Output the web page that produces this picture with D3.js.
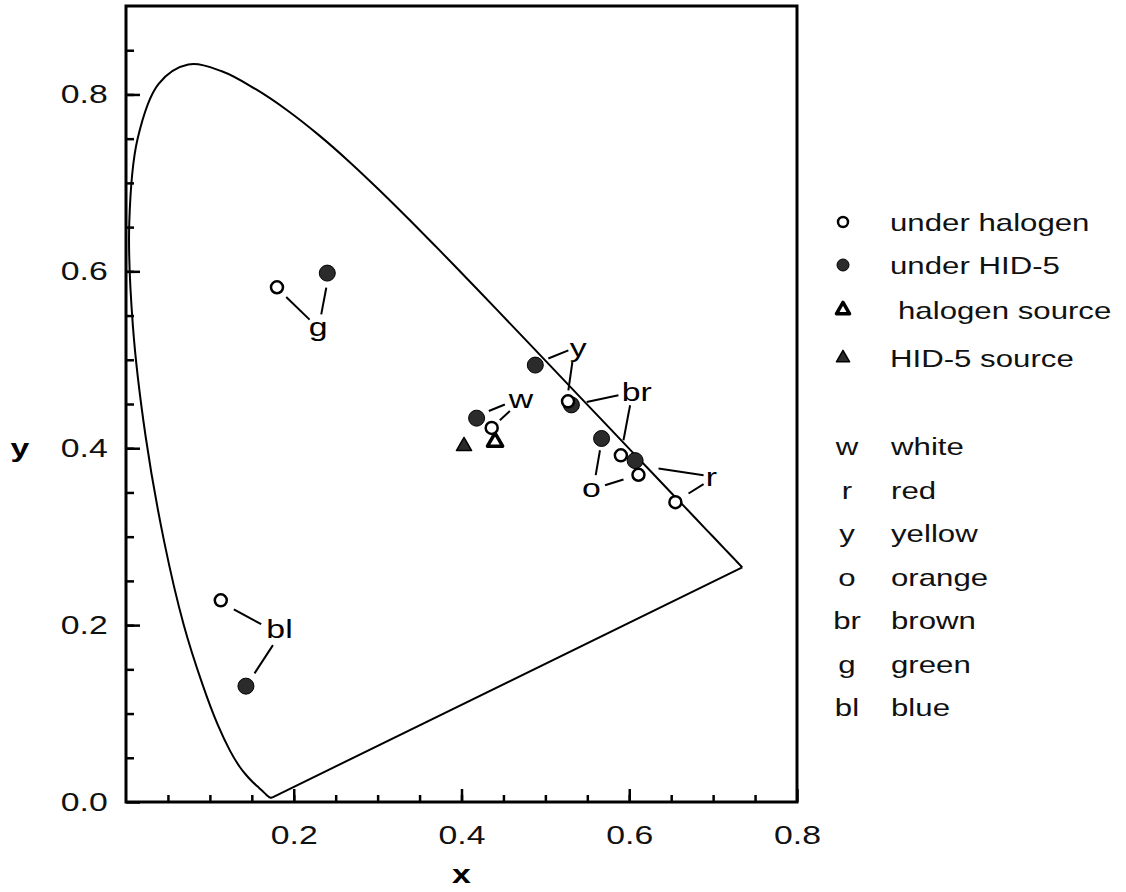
<!DOCTYPE html>
<html>
<head>
<meta charset="utf-8">
<script src="https://cdn.jsdelivr.net/npm/d3@7"></script>
<style>
  body { margin: 0; background: #fff; }
  svg { display: block; font-family: "Liberation Sans", Arial, Helvetica, sans-serif; }
</style>
</head>
<body>
<svg id="chart" width="1126" height="892"></svg>
<script>
// CIE 1931 spectral locus, 380-700 nm in 5 nm steps
const locusX = [0.1741,0.1740,0.1738,0.1736,0.1733,0.1730,0.1726,0.1721,0.1714,0.1703,0.1689,0.1669,0.1644,0.1611,0.1566,0.1510,0.1440,0.1355,0.1241,0.1096,0.0913,0.0687,0.0454,0.0235,0.0082,0.0039,0.0139,0.0389,0.0743,0.1142,0.1547,0.1929,0.2296,0.2658,0.3016,0.3373,0.3731,0.4087,0.4441,0.4788,0.5125,0.5448,0.5752,0.6029,0.6270,0.6482,0.6658,0.6801,0.6915,0.7006,0.7079,0.7140,0.7190,0.7230,0.7260,0.7283,0.7300,0.7311,0.7320,0.7327,0.7334,0.7340,0.7344,0.7346,0.7347];
const locusY = [0.0050,0.0050,0.0049,0.0049,0.0048,0.0048,0.0048,0.0048,0.0051,0.0058,0.0069,0.0086,0.0109,0.0138,0.0177,0.0227,0.0297,0.0399,0.0578,0.0868,0.1327,0.2007,0.2950,0.4127,0.5384,0.6548,0.7502,0.8120,0.8338,0.8262,0.8059,0.7816,0.7543,0.7243,0.6923,0.6589,0.6245,0.5896,0.5547,0.5202,0.4866,0.4544,0.4242,0.3965,0.3725,0.3514,0.3340,0.3197,0.3083,0.2993,0.2920,0.2859,0.2809,0.2770,0.2740,0.2717,0.2700,0.2689,0.2680,0.2673,0.2666,0.2660,0.2656,0.2654,0.2653];

// colour samples: code, chromaticity under halogen (open) and under HID-5 (filled)
const colorCodes = ["w", "r", "y", "o", "br", "g", "bl"];
const colorNames = ["white", "red", "yellow", "orange", "brown", "green", "blue"];
const halogenX = [0.436, 0.655, 0.527, 0.611, 0.590, 0.180, 0.113];
const halogenY = [0.423, 0.339, 0.453, 0.370, 0.392, 0.582, 0.228];
const hidX     = [0.418, 0.607, 0.488, 0.567, 0.531, 0.240, 0.143];
const hidY     = [0.434, 0.386, 0.494, 0.411, 0.449, 0.598, 0.131];

// light sources
const sourceNames = ["halogen source", "HID-5 source"];
const sourceX = [0.440, 0.403];
const sourceY = [0.405, 0.400];

// label positions and leader lines (x1, y1, x2, y2) per colour code
const labelX = [0.471, 0.698, 0.539, 0.555, 0.609, 0.229, 0.183];
const labelY = [0.456, 0.367, 0.513, 0.355, 0.464, 0.537, 0.196];
const leaderLines = [
  ["w", 0.4326, 0.4421, 0.4517, 0.4494], ["w", 0.4457, 0.4316, 0.4577, 0.4421],
  ["r", 0.6886, 0.3695, 0.6349, 0.3771], ["r", 0.6886, 0.3593, 0.6707, 0.3488],
  ["y", 0.5035, 0.5014, 0.5274, 0.5107], ["y", 0.5322, 0.4975, 0.5274, 0.4655],
  ["o", 0.5600, 0.3695, 0.5651, 0.3977], ["o", 0.5711, 0.3582, 0.5931, 0.3646],
  ["br", 0.5871, 0.4599, 0.5493, 0.4523], ["br", 0.6010, 0.4486, 0.5931, 0.4090],
  ["g", 0.1910, 0.5710, 0.2189, 0.5454], ["g", 0.2388, 0.5816, 0.2328, 0.5514],
  ["bl", 0.1286, 0.2177, 0.1612, 0.2011], ["bl", 0.1752, 0.1774, 0.1532, 0.1454]
];

const seriesNames = ["under halogen", "under HID-5", "halogen source", "HID-5 source"];
const majorTicks = [0, 0.2, 0.4, 0.6, 0.8];
const minorTicks = d3.range(1, 18).map(i => i * 0.05);

const svg = d3.select("#chart");
const margin = { left: 126, top: 6, right: 329, bottom: 90 };
const width = +svg.attr("width");
const height = +svg.attr("height");

const xScale = d3.scaleLinear().domain([0, 0.8]).range([margin.left, width - margin.right]);
const yScale = d3.scaleLinear().domain([0, 0.9]).range([height - margin.bottom, margin.top]);

const stretch = 1.3;   // the scanned lettering is wide
const dark = "#2b2b2b";

// frame
svg.append("rect")
   .attr("x", xScale(0)).attr("y", yScale(0.9))
   .attr("width", xScale(0.8) - xScale(0)).attr("height", yScale(0) - yScale(0.9))
   .attr("fill", "none").attr("stroke", "#000").attr("stroke-width", 3);

// axes: ticks point into the plot
const xMinor = svg.append("g").attr("transform", `translate(0, ${yScale(0)})`)
   .call(d3.axisBottom(xScale).tickValues(minorTicks.filter(v => v < 0.8)).tickSize(-7).tickFormat(""));
const xMajor = svg.append("g").attr("transform", `translate(0, ${yScale(0)})`)
   .call(d3.axisBottom(xScale).tickValues(majorTicks.filter(v => v > 0)).tickSize(-13).tickPadding(24)
         .tickFormat(d3.format(".1f")));
const yMinor = svg.append("g").attr("transform", `translate(${xScale(0)}, 0)`)
   .call(d3.axisLeft(yScale).tickValues(minorTicks).tickSize(-8).tickFormat(""));
const yMajor = svg.append("g").attr("transform", `translate(${xScale(0)}, 0)`)
   .call(d3.axisLeft(yScale).tickValues(majorTicks).tickSize(-14).tickPadding(14)
         .tickFormat(d3.format(".1f")));

[xMinor, xMajor, yMinor, yMajor].forEach(a => {
  a.select(".domain").remove();
  a.selectAll(".tick line").attr("stroke", "#000").attr("stroke-width", 2.5);
  a.selectAll("text")
   .attr("fill", "#111")
   .style("font-size", "26px")
   .attr("transform", `scale(${stretch},1)`);
});

// axis titles
svg.append("text")
   .attr("transform", `translate(${(xScale(0) + xScale(0.8)) / 2}, 883) scale(${stretch},1)`)
   .attr("text-anchor", "middle")
   .style("font-size", "26px").style("font-weight", "bold")
   .text("x");
svg.append("text")
   .attr("transform", `translate(20, ${yScale(0.4) + 9}) scale(${stretch},1)`)
   .attr("text-anchor", "middle")
   .style("font-size", "26px").style("font-weight", "bold")
   .text("y");

// spectral locus (smooth) and the straight purple line
const locus = locusX.map((x, i) => [x, locusY[i]]);
const lineGen = d3.line().x(d => xScale(d[0])).y(d => yScale(d[1]));
svg.append("path")
   .datum(locus)
   .attr("d", lineGen.curve(d3.curveCatmullRom.alpha(0.5)))
   .attr("fill", "none").attr("stroke", "#000").attr("stroke-width", 2);
svg.append("path")
   .datum([locus[locus.length - 1], locus[0]])
   .attr("d", d3.line().x(d => xScale(d[0])).y(d => yScale(d[1])))
   .attr("fill", "none").attr("stroke", "#000").attr("stroke-width", 2);

// leader lines
svg.append("g").selectAll("line")
   .data(leaderLines)
   .join("line")
   .attr("x1", d => xScale(d[1])).attr("y1", d => yScale(d[2]))
   .attr("x2", d => xScale(d[3])).attr("y2", d => yScale(d[4]))
   .attr("stroke", "#000").attr("stroke-width", 2);

// point labels
svg.append("g").selectAll("text")
   .data(colorCodes)
   .join("text")
   .attr("transform", (d, i) => `translate(${xScale(labelX[i])}, ${yScale(labelY[i]) + 9}) scale(${stretch},1)`)
   .attr("text-anchor", "middle")
   .style("font-size", "26px")
   .text(d => d);

const triangle = d3.symbol().type(d3.symbolTriangle);

// sources
svg.append("g").selectAll("path")
   .data(sourceNames)
   .join("path")
   .attr("transform", (d, i) => `translate(${xScale(sourceX[i])}, ${yScale(sourceY[i]) - 2})`)
   .attr("d", triangle.size(100)())
   .attr("fill", (d, i) => i === 0 ? "#fff" : dark)
   .attr("stroke", "#000").attr("stroke-width", (d, i) => i === 0 ? 3.5 : 1.5)
   .attr("stroke-linejoin", "round");

// under HID-5 (filled)
svg.append("g").selectAll("circle")
   .data(colorCodes)
   .join("circle")
   .attr("cx", (d, i) => xScale(hidX[i]))
   .attr("cy", (d, i) => yScale(hidY[i]))
   .attr("r", 8)
   .attr("fill", dark).attr("stroke", "#000").attr("stroke-width", 1);

// under halogen (open)
svg.append("g").selectAll("circle")
   .data(colorCodes)
   .join("circle")
   .attr("cx", (d, i) => xScale(halogenX[i]))
   .attr("cy", (d, i) => yScale(halogenY[i]))
   .attr("r", 6)
   .attr("fill", "#fff").attr("stroke", "#000").attr("stroke-width", 2.5);

// legend
const legend = svg.append("g").attr("transform", "translate(843, 0)");
const rowY = [222, 265, 310, 358];
seriesNames.forEach((name, i) => {
  const row = legend.append("g").attr("transform", `translate(0, ${rowY[i]})`);
  if (i < 2) {
    row.append("circle").attr("r", i === 0 ? 5 : 6)
       .attr("fill", i === 0 ? "#fff" : dark)
       .attr("stroke", "#000").attr("stroke-width", i === 0 ? 2.5 : 1);
  } else {
    row.append("path").attr("d", triangle.size(75)())
       .attr("fill", i === 2 ? "#fff" : dark)
       .attr("stroke", "#000").attr("stroke-width", i === 2 ? 3.5 : 1.5)
       .attr("stroke-linejoin", "round");
  }
  row.append("text")
     .attr("transform", `translate(${i === 2 ? 55 : 47}, 9) scale(${stretch},1)`)
     .style("font-size", "24px").attr("fill", "#111")
     .text(name);
});

colorCodes.forEach((code, i) => {
  const row = legend.append("g").attr("transform", `translate(0, ${447 + i * 43.5})`);
  row.append("text")
     .attr("transform", `translate(4, 8) scale(${stretch},1)`)
     .attr("text-anchor", "middle")
     .style("font-size", "24px").attr("fill", "#111")
     .text(code);
  row.append("text")
     .attr("transform", `translate(48, 8) scale(${stretch},1)`)
     .style("font-size", "24px").attr("fill", "#111")
     .text(colorNames[i]);
});
</script>
</body>
</html>
